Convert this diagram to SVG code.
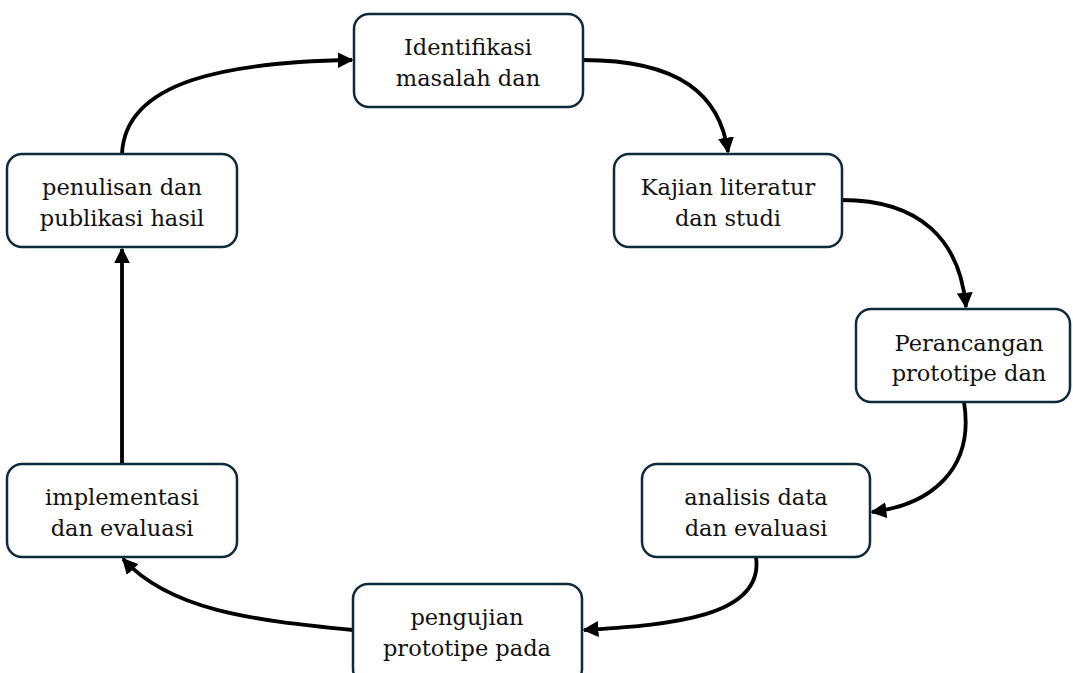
<svg xmlns="http://www.w3.org/2000/svg" width="1073" height="673" viewBox="0 0 1073 673">
<style>
.box{fill:#ffffff;stroke:#0e2a3b;stroke-width:2.5}
.lbl{font-family:"DejaVu Serif","Liberation Serif",serif;font-size:22.5px;fill:#111111;text-anchor:middle}
.con{fill:none;stroke:#000000;stroke-width:3.8}
</style>
<defs>
<marker id="ah" viewBox="0 0 10 10" refX="9" refY="5" markerWidth="4.2" markerHeight="4.2" orient="auto" markerUnits="strokeWidth">
<path d="M0,0 L10,5 L0,10 z" fill="#000000"/>
</marker>
</defs>
<rect width="1073" height="673" fill="#ffffff"/>
<g id="connectors">
<path class="con" marker-end="url(#ah)" d="M583,60 C680,60 720,95 728,152"/>
<path class="con" marker-end="url(#ah)" d="M842,200 C920,200 960,240 966,307"/>
<path class="con" marker-end="url(#ah)" d="M964,402 C975,470 930,505 872,512"/>
<path class="con" marker-end="url(#ah)" d="M756,557 C765,620 660,625 584,630"/>
<path class="con" marker-end="url(#ah)" d="M353,630 C250,620 170,610 123,559"/>
<path class="con" marker-end="url(#ah)" d="M122,464 L122,249"/>
<path class="con" marker-end="url(#ah)" d="M122,154 C125,80 230,62 352,60"/>
</g>
<g id="n1"><rect class="box" x="354" y="14" width="229" height="93" rx="15"/><text class="lbl" x="468" y="55">Identifikasi</text><text class="lbl" x="468" y="86">masalah dan</text></g>
<g id="n2"><rect class="box" x="614" y="154" width="228" height="93" rx="15"/><text class="lbl" x="728" y="195">Kajian literatur</text><text class="lbl" x="728" y="226">dan studi</text></g>
<g id="n3"><rect class="box" x="856" y="309" width="214" height="93" rx="15"/><text class="lbl" x="969" y="351">Perancangan</text><text class="lbl" x="969" y="381">prototipe dan</text></g>
<g id="n4"><rect class="box" x="642" y="464" width="228" height="93" rx="15"/><text class="lbl" x="756" y="505">analisis data</text><text class="lbl" x="756" y="536">dan evaluasi</text></g>
<g id="n5"><rect class="box" x="353" y="584" width="229" height="100" rx="15"/><text class="lbl" x="467" y="625">pengujian</text><text class="lbl" x="467" y="656">prototipe pada</text></g>
<g id="n6"><rect class="box" x="7" y="464" width="230" height="93" rx="15"/><text class="lbl" x="122" y="505">implementasi</text><text class="lbl" x="122" y="536">dan evaluasi</text></g>
<g id="n7"><rect class="box" x="7" y="154" width="230" height="93" rx="15"/><text class="lbl" x="122" y="195">penulisan dan</text><text class="lbl" x="122" y="226">publikasi hasil</text></g>
</svg>
